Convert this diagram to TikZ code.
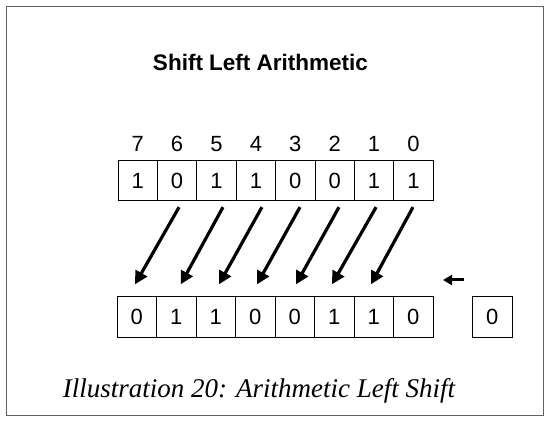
\documentclass[tikz,border=0pt]{standalone}
\usepackage{fontspec}
\setmainfont{Liberation Sans}
\newfontfamily\capfont{Liberation Serif}
\usetikzlibrary{arrows.meta,calc}
\begin{document}
\begin{tikzpicture}[x=1pt,y=-1pt,
  cell/.style={draw=black,line width=0.8pt,minimum width=39.4pt,minimum height=40.5pt,inner sep=0pt,font=\fontsize{22}{24}\selectfont},
  idx/.style={anchor=base,inner sep=0pt,font=\fontsize{22}{24}\selectfont},
  shiftarrow/.style={line width=3.2pt,-{Triangle[length=13pt,width=13pt]}},
  fillarrow/.style={line width=3pt,-{Triangle[length=9pt,width=10pt]}},
  frame/.style={draw=black!62,line width=1pt}]
\useasboundingbox (0,0) rectangle (550,425);
\draw[frame] (6.5,6.5) rectangle (543,416);
\node[anchor=base,inner sep=0pt,font=\fontsize{22.5}{26}\selectfont\bfseries] (title) at (260.5,71) {Shift Left Arithmetic};
% top register
\foreach \b/\v [count=\i from 0] in {7/1,6/0,5/1,4/1,3/0,2/0,1/1,0/1}{
  \node[cell] (t\b) at (137.7+39.4*\i,180.5) {\v};
  \node[idx] (n\b) at (137.7+39.4*\i,152) {\b};
}
% bottom register
\foreach \b/\v [count=\i from 0] in {7/0,6/1,5/1,4/0,3/0,2/1,1/1,0/0}{
  \node[cell] (b\b) at (136.7+39.5*\i,317) {\v};
}
\node[cell] (z) at (492.3,317) {0};
% shift arrows
\foreach \s/\e/\ds/\de in {6/7/2/-1.7,5/6/6.5/4.5,4/5/6/3.3,3/4/4.7/1.8,2/3/4.3/1.3,1/2/2/-2.2,0/1/-0.5/-2.7}{
  \draw[shiftarrow] ([xshift=\ds pt,yshift=-6pt]t\s.south) -- ([xshift=\de pt,yshift=12pt]b\e.north);
}
\coordinate (fs) at (464,280);
\coordinate (fe) at (443,280);
\draw[fillarrow] (fs) -- (fe);
\node[anchor=base,inner sep=0pt,font=\capfont\itshape\fontsize{27}{30}\selectfont] (cap) at (259,398) {Illustration 20: Arithmetic Left Shift};
\end{tikzpicture}
\end{document}
